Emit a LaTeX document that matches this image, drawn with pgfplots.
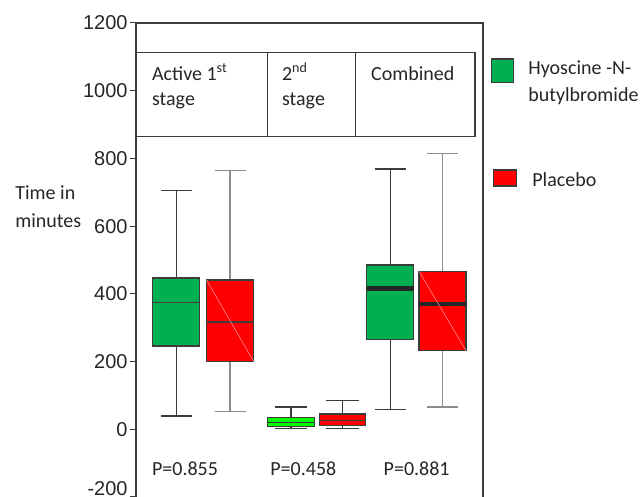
\documentclass[border=0pt]{standalone}
\usepackage{pgfplots}
\pgfplotsset{compat=1.18}
\usepgfplotslibrary{statistics}
\usepackage{fontspec}
\setmainfont{Carlito}
\newfontfamily\tickfont{Liberation Sans}
\definecolor{grn}{HTML}{00B050}
\definecolor{lime}{HTML}{00FF00}
\definecolor{rd}{HTML}{FF0000}
\definecolor{edge}{HTML}{3C3C3C}
\definecolor{wgray}{HTML}{8C8C8C}
\definecolor{txt}{HTML}{262626}
\begin{document}
\begin{tikzpicture}[font=\fontsize{10}{12}\selectfont, text=txt]
\begin{axis}[
  x=0.5pt, y=0.169286pt,
  xmin=136, xmax=483, ymin=-200, ymax=1200,
  clip=false,
  hide x axis,
  axis y line*=left,
  axis line style={draw=edge, line width=0.6pt},
  ytick={0,200,400,600,800,1000,1200},
  extra y ticks={-200},
  extra y tick style={yticklabel style={yshift=4.2pt}},
  tick align=outside,
  major tick length=3pt,
  tick style={draw=edge, line width=0.5pt},
  boxplot/draw direction=y,
  /pgf/number format/assume math mode=true,
  /pgf/number format/1000 sep={},
  yticklabel style={font=\tickfont\fontsize{10}{12}\selectfont, text=txt, inner sep=1pt},
]
% top and right frame
\draw[edge, line width=0.6pt] (axis cs:136,1200) -- (axis cs:483,1200) -- (axis cs:483,-200);

% Group 1
\addplot[boxplot prepared={draw position=176.3, lower whisker=39, lower quartile=246, median=375, upper quartile=447, upper whisker=705, box extend=47, whisker extend=31},
  fill=grn, draw=edge, line width=0.6pt, mark=none,
  boxplot/every whisker/.style={draw=edge}] coordinates {};
\addplot[boxplot prepared={draw position=230, lower whisker=52, lower quartile=201, median=317, upper quartile=441, upper whisker=764, box extend=47, whisker extend=31},
  fill=rd, draw=edge, line width=0.6pt, mark=none,
  boxplot/every whisker/.style={draw=wgray}] coordinates {};
% Group 2
\addplot[boxplot prepared={draw position=291, lower whisker=2, lower quartile=9, median=21, upper quartile=34, upper whisker=66, box extend=47, whisker extend=32},
  fill=lime, draw=edge, line width=0.6pt, mark=none,
  boxplot/every whisker/.style={draw=edge}] coordinates {};
\addplot[boxplot prepared={draw position=342.3, lower whisker=2, lower quartile=10, median=27, upper quartile=45, upper whisker=85, box extend=46, whisker extend=33},
  fill=rd, draw=edge, line width=0.6pt, mark=none,
  boxplot/every whisker/.style={draw=edge}] coordinates {};
% Group 3
\addplot[boxplot prepared={draw position=390.3, lower whisker=59, lower quartile=266, median=416, upper quartile=485, upper whisker=769, box extend=47, whisker extend=31},
  fill=grn, draw=edge, line width=0.6pt, mark=none,
  boxplot/every whisker/.style={draw=edge},
  boxplot/every median/.style={line width=2.2pt, draw=black!85}] coordinates {};
\addplot[boxplot prepared={draw position=442.5, lower whisker=66, lower quartile=232, median=370, upper quartile=467, upper whisker=814, box extend=47, whisker extend=31},
  fill=rd, draw=edge, line width=0.6pt, mark=none,
  boxplot/every whisker/.style={draw=wgray},
  boxplot/every median/.style={line width=2.2pt, draw=black!85}] coordinates {};

% faint diagonals on red boxes
\draw[rd!45!white, line width=0.3pt] (axis cs:206.5,441) -- (axis cs:253.5,201);
\draw[rd!45!white, line width=0.3pt] (axis cs:419,467) -- (axis cs:466,232);

% category table
\draw[edge, line width=0.6pt] (axis cs:136,1113.5) rectangle (axis cs:475,864.2);
\draw[edge, line width=0.6pt] (axis cs:267.3,1113.5) -- (axis cs:267.3,864.2);
\draw[edge, line width=0.6pt] (axis cs:355.7,1113.5) -- (axis cs:355.7,864.2);
\node[anchor=base west, inner sep=0pt] at (axis cs:151.7,1031.6) {Active 1\textsuperscript{st}};
\node[anchor=base west, inner sep=0pt] at (axis cs:151.7,954.9) {stage};
\node[anchor=base west, inner sep=0pt] at (axis cs:281.7,1031.6) {2\textsuperscript{nd}};
\node[anchor=base west, inner sep=0pt] at (axis cs:281.7,954.9) {stage};
\node[anchor=base west, inner sep=0pt] at (axis cs:370.7,1031.6) {Combined};

% y label
\node[anchor=base west, inner sep=0pt] at (axis cs:15,677.2) {Time in};
\node[anchor=base west, inner sep=0pt] at (axis cs:15,594.5) {minutes};

% P values
\node[anchor=base west, inner sep=0pt] at (axis cs:151.7,-138) {P=0.855};
\node[anchor=base west, inner sep=0pt] at (axis cs:270,-138) {P=0.458};
\node[anchor=base west, inner sep=0pt] at (axis cs:383.3,-138) {P=0.881};

% legend
\draw[edge, line width=0.6pt, fill=grn] (axis cs:491.7,1093.7) rectangle (axis cs:513.5,1023.7);
\node[anchor=base west, inner sep=0pt] at (axis cs:528,1046.4) {Hyoscine -N-};
\node[anchor=base west, inner sep=0pt] at (axis cs:528,967.6) {butylbromide};
\draw[edge, line width=0.6pt, fill=rd] (axis cs:493.3,765.8) rectangle (axis cs:516.7,718.6);
\node[anchor=base west, inner sep=0pt] at (axis cs:532,716.5) {Placebo};

\coordinate (bbl) at (axis cs:0,-200);
\coordinate (bbr) at (axis cs:642,1267.9);
\end{axis}
\pgfresetboundingbox
\useasboundingbox (bbl) rectangle (bbr);
\end{tikzpicture}
\end{document}
